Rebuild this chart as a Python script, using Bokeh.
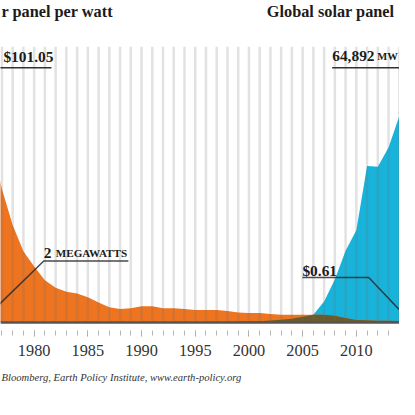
from bokeh.plotting import figure
from bokeh.models import Range1d, FixedTicker, Span, Title
from bokeh.embed import file_html
from bokeh.resources import INLINE
from bokeh.core.properties import value

# ---------------- data ----------------
years = list(range(1975, 2016))
price_usd = [101.05, 72.0, 53.0, 38.7, 28.3, 22.2, 16.8, 13.8, 12.2, 11.5,
             10.0, 8.0, 6.1, 5.4, 5.7, 6.5, 6.5, 5.7, 5.7, 5.4,
             5.0, 5.0, 5.0, 4.6, 4.0, 3.8, 3.8, 3.4, 3.1, 3.1,
             3.1, 3.1, 3.1, 2.7, 1.8, 1.0, 0.9, 0.75, 0.7, 0.65,
             0.61]
capacity_mw = [2, 2, 2, 3, 4, 7, 8, 9, 17, 22,
               23, 26, 29, 34, 40, 46, 55, 58, 60, 69,
               78, 89, 126, 155, 201, 277, 371, 500, 700, 1000,
               1500, 2000, 5400, 11000, 18300, 23500, 39900, 39700, 44600, 52600,
               64892]
tick_years = [1980, 1985, 1990, 1995, 2000, 2005, 2010, 2015]

title_left = "r panel per watt"
title_right = "Global solar panel"
source_text = "Bloomberg, Earth Policy Institute, www.earth-policy.org"
lbl_price_max = "$101.05"
lbl_price_min = "$0.61"
lbl_mw_max = "64,892"
lbl_mw_unit = "MW"
lbl_mw_min_num = "2"
lbl_mw_min_unit = "MEGAWATTS"

# ---------------- layout ----------------
W, H = 399, 399
S = W / 415.0               # reference px -> figure px
PXY = 11.17                 # reference pixels per year
FRAME_H = 330
BOTTOM = H - FRAME_H
ZERO_FROM_BOTTOM = FRAME_H - 335 * S
MAX_PX = 265 * S
lo = -ZERO_FROM_BOTTOM / MAX_PX
hi = (335 * S) / MAX_PX
TXT_DY = 4                  # text baseline correction (reference px)

pmax = max(price_usd)
mmax = max(capacity_mw)

def xr(px):   # reference px -> year
    return 1980 + (px - 35) / PXY

def yr(py):   # reference px -> price units
    return (335 - py) / 265 * pmax

def yt(py):   # text baseline position
    return yr(py - TXT_DY)

def fs(px):
    return "%.1fpx" % (px * S)

ORANGE = "#EE7420"
BLUE = "#17B3DA"
OLIVE = "#6A5A2C"
INK = "#1c1c1c"

p = figure(width=W, height=H, output_backend="svg", toolbar_location=None,
           x_range=Range1d(xr(0), xr(415)),
           y_range=Range1d(lo * pmax, hi * pmax),
           y_axis_location=None, min_border_left=0, min_border_right=0,
           min_border_top=0, min_border_bottom=BOTTOM,
           outline_line_color=None, background_fill_color="white",
           border_fill_color="white")
p.extra_y_ranges = {"mw": Range1d(lo * mmax, hi * mmax)}
p.xgrid.visible = False
p.ygrid.visible = False

# areas
p.varea(x=years, y1=0, y2=capacity_mw, y_range_name="mw", fill_color=BLUE)
p.varea(x=years, y1=0, y2=price_usd, fill_color=ORANGE)
overlap = [min(pv, mv * pmax / mmax) for pv, mv in zip(price_usd, capacity_mw)]
p.varea(x=years, y1=0, y2=overlap, fill_color=OLIVE)

# vertical year stripes
grid_top = yr(48)
p.segment(x0=years, y0=[0] * len(years), x1=years, y1=[grid_top] * len(years),
          line_color="#707070", line_alpha=0.2, line_width=2.5)

# baseline
p.add_layout(Span(location=0, dimension="width", line_color="#555555", line_width=2.5))

# axis
xa = p.xaxis[0]
xa.ticker = FixedTicker(ticks=tick_years, minor_ticks=years)
xa.axis_line_color = None
xa.major_tick_in = 0
xa.major_tick_out = 6
xa.minor_tick_in = 0
xa.minor_tick_out = 5
xa.major_tick_line_color = "#9a9a9a"
xa.minor_tick_line_color = "#b5b5b5"
xa.major_label_text_font = "Liberation Serif"
xa.major_label_text_font_size = fs(17)
xa.major_label_text_color = "#333333"
xa.major_label_standoff = 8

# source line as the axis label, aligned left
use_axis_label = True
try:
    xa.axis_label_align = "left"
except Exception:
    use_axis_label = False

if use_axis_label:
    xa.axis_label = source_text
    xa.axis_label_text_font = "Liberation Serif"
    xa.axis_label_text_font_style = "italic"
    xa.axis_label_text_font_size = fs(11)
    xa.axis_label_text_color = "#333333"
    xa.axis_label_standoff = 17
else:
    p.add_layout(Title(text=source_text, align="left", offset=1,
                       text_font="Liberation Serif", text_font_style="italic",
                       text_font_size=fs(11), text_color="#333333", standoff=23), "below")

serif = value("Liberation Serif")

# titles
p.text(x=[xr(1)], y=[yt(15)], text=[title_left], text_font=serif,
       text_font_style="bold", text_font_size=fs(17), text_align="left",
       text_baseline="alphabetic", text_color=INK)
p.text(x=[xr(277)], y=[yt(15)], text=[title_right], text_font=serif,
       text_font_style="bold", text_font_size=fs(17), text_align="left",
       text_baseline="alphabetic", text_color=INK)

# annotations: price max
i_pmax = price_usd.index(pmax)
p.line(x=[years[i_pmax], xr(53)], y=[pmax, pmax], line_color="#333333", line_width=1.5)
p.text(x=[xr(3)], y=[yt(62)], text=[lbl_price_max], text_font=serif,
       text_font_style="bold", text_font_size=fs(16), text_baseline="alphabetic",
       text_color=INK)

# capacity max
i_mmax = capacity_mw.index(mmax)
p.line(x=[xr(345), years[i_mmax]], y=[mmax, mmax], y_range_name="mw",
       line_color="#333333", line_width=1.5)
p.text(x=[xr(345)], y=[yt(62)], text=[lbl_mw_max], text_font=serif,
       text_font_style="bold", text_font_size=fs(16), text_baseline="alphabetic",
       text_color=INK)
p.text(x=[xr(345)], y=[yt(62)], text=[lbl_mw_unit], text_font=serif,
       text_font_style="bold", text_font_size=fs(11), text_baseline="alphabetic",
       text_color=INK, x_offset=45)

# capacity min (first year)
p.line(x=[years[0], xr(45), xr(133)], y=[capacity_mw[0] * pmax / mmax, yr(271), yr(271)],
       line_color="#2a2a2a", line_alpha=0.85, line_width=1.5)
p.text(x=[xr(45)], y=[yt(267)], text=[lbl_mw_min_num], text_font=serif,
       text_font_style="bold", text_font_size=fs(16), text_baseline="alphabetic",
       text_color=INK)
p.text(x=[xr(45)], y=[yt(267)], text=[lbl_mw_min_unit], text_font=serif,
       text_font_style="bold", text_font_size=fs(11.5), text_baseline="alphabetic",
       text_color=INK, x_offset=12)

# price min (last year)
p.line(x=[xr(314), xr(383), years[-1]], y=[yr(288), yr(288), price_usd[-1]],
       line_color="#2a2a2a", line_alpha=0.85, line_width=1.5)
p.text(x=[xr(314)], y=[yt(285)], text=[lbl_price_min], text_font=serif,
       text_font_style="bold", text_font_size=fs(16), text_baseline="alphabetic",
       text_color=INK)

open("out.html", "w").write(file_html(p, INLINE))
